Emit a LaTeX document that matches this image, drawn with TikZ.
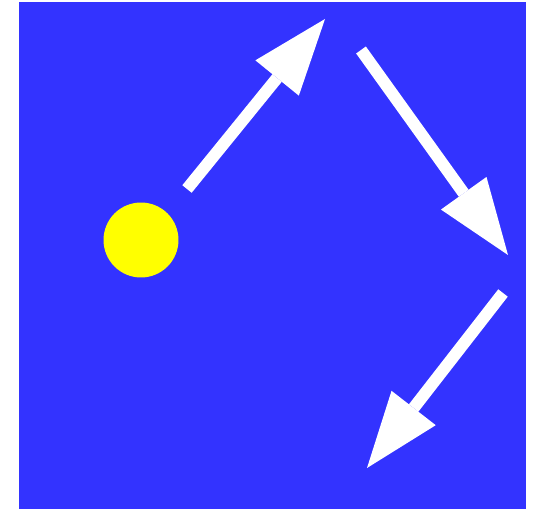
\documentclass[tikz,border=0pt]{standalone}
\definecolor{FieldBlue}{RGB}{51,51,255}
\definecolor{BallYellow}{RGB}{255,255,0}
\usetikzlibrary{arrows.meta}

\begin{document}
\begin{tikzpicture}[x=0.02cm, y=-0.02cm,
    move/.style={-{Triangle[length=1.52cm, width=1.12cm, line width=0pt]}, white, line width=0.24cm}]
  \useasboundingbox (0,0) rectangle (534,509);
  \fill[FieldBlue] (19,2) rectangle (526,509);
  \node[circle, fill=BallYellow, minimum size=1.5cm, inner sep=0pt] (ball) at (141,240) {};
  % path of the ball
  \coordinate (start) at (187,189);
  \coordinate (top) at (325,19);
  \coordinate (back) at (361,50);
  \coordinate (right) at (508,255);
  \coordinate (turn) at (503,293);
  \coordinate (bottom) at (367,468);
  \draw[move] (start) -- (top);
  \draw[move] (back) -- (right);
  \draw[move] (turn) -- (bottom);
\end{tikzpicture}
\end{document}
